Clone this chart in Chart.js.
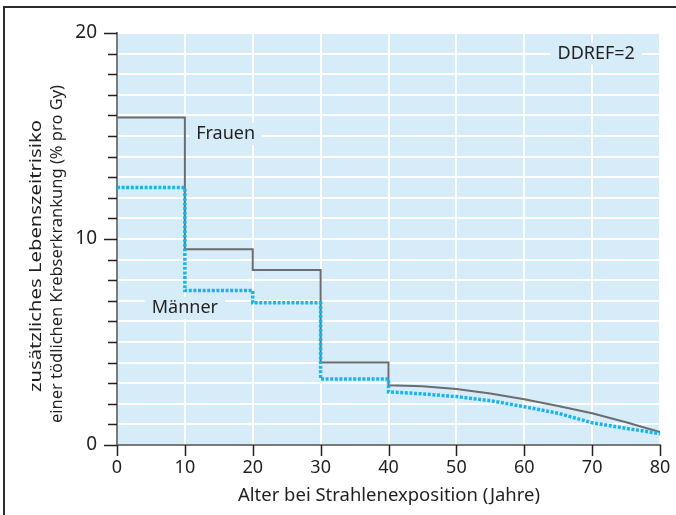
<!DOCTYPE html>
<html>
<head>
<meta charset="utf-8">
<script src="https://cdn.jsdelivr.net/npm/chart.js@4/dist/chart.umd.min.js"></script>
<style>
  html, body { margin: 0; padding: 0; background: #fff; }
  #wrap { width: 676px; height: 515px; position: relative; }
</style>
</head>
<body>
<div id="wrap"><canvas id="chart" width="676" height="515"></canvas></div>
<script>
// values
const ages = [0, 10, 10, 20, 20, 30, 30, 40, 40, 45, 50, 55, 60, 65, 70, 75, 80]
const frauen = [15.9, 15.9, 9.5, 9.5, 8.5, 8.5, 4.0, 4.0, 2.9, 2.85, 2.72, 2.5, 2.22, 1.89, 1.54, 1.1, 0.63]
const maenner = [12.5, 12.5, 7.5, 7.5, 6.9, 6.9, 3.2, 3.2, 2.58, 2.48, 2.35, 2.15, 1.86, 1.54, 1.08, 0.81, 0.55]
const majorYTicks = [0, 10, 20]

const xTitle = 'Alter bei Strahlenexposition (Jahre)'
const yTitle = ['zusätzliches Lebenszeitrisiko', 'einer tödlichen Krebserkrankung (% pro Gy)']
// label text with its anchor in data units
const labels = [
  { text: 'Frauen', x: 16, y: 15.1 },
  { text: 'Männer', x: 10, y: 6.65 },
  { text: 'DDREF=2', x: 70.6, y: 19.0 },
]

const FONT = '"Noto Sans", sans-serif'
const BG = '#d6edf9'
const INK = '#231f20'

const toPoints = (ys) => ys.map((y, i) => ({ x: ages[i], y }))

// draw text squeezed or stretched along its baseline to a given width
const fillFitted = (ctx, text, x, y, width) => {
  const k = width / ctx.measureText(text).width
  ctx.save()
  ctx.scale(k, 1)
  ctx.fillText(text, x / k, y)
  ctx.restore()
}

const decor = {
  id: 'decor',
  beforeDraw(chart) {
    const { ctx, chartArea: a } = chart
    ctx.save()
    ctx.fillStyle = BG
    ctx.fillRect(a.left, a.top, a.right - a.left, a.bottom - a.top)
    ctx.restore()
  },
  beforeDatasetsDraw(chart) {
    const { ctx, scales } = chart
    ctx.save()
    ctx.font = '18px ' + FONT
    ctx.textAlign = 'center'
    ctx.textBaseline = 'middle'
    labels.forEach((l) => {
      const px = scales.x.getPixelForValue(l.x)
      const py = scales.y.getPixelForValue(l.y)
      const w = ctx.measureText(l.text).width + 14
      ctx.fillStyle = BG
      ctx.fillRect(px - w / 2, py - 11, w, 22)
      ctx.fillStyle = INK
      ctx.fillText(l.text, px, py)
    })
    ctx.restore()
  },
  afterDraw(chart) {
    const { ctx, scales, chartArea: a } = chart
    ctx.save()
    // tick marks
    ctx.strokeStyle = INK
    ctx.lineWidth = 1.5
    scales.x.ticks.forEach((t) => {
      const px = Math.round(scales.x.getPixelForValue(t.value)) + 0.5
      ctx.beginPath()
      ctx.moveTo(px, a.bottom)
      ctx.lineTo(px, a.bottom + 11)
      ctx.stroke()
    })
    scales.y.ticks.forEach((t) => {
      const py = Math.round(scales.y.getPixelForValue(t.value)) + 0.5
      const len = majorYTicks.includes(t.value) ? 13 : 9
      ctx.beginPath()
      ctx.moveTo(a.left - len, py)
      ctx.lineTo(a.left, py)
      ctx.stroke()
    })
    // axis titles
    ctx.fillStyle = INK
    ctx.textAlign = 'center'
    ctx.textBaseline = 'middle'
    ctx.font = '17.5px ' + FONT
    fillFitted(ctx, xTitle, 389, 496, 302)
    ctx.save()
    ctx.translate(36, 256)
    ctx.rotate(-Math.PI / 2)
    ctx.font = '17px ' + FONT
    fillFitted(ctx, yTitle[0], 0, 0, 272)
    fillFitted(ctx, yTitle[1], 2, 21, 338)
    ctx.restore()
    // frame
    ctx.strokeStyle = '#2b2b2b'
    ctx.lineWidth = 2
    ctx.beginPath()
    ctx.moveTo(4, 515)
    ctx.lineTo(4, 7)
    ctx.lineTo(676, 7)
    ctx.stroke()
    ctx.restore()
  },
}

new Chart(document.getElementById('chart'), {
  type: 'line',
  data: {
    datasets: [
      {
        label: 'Männer',
        data: toPoints(maenner),
        borderColor: '#19b5ea',
        borderWidth: 3.5,
        borderDash: [3, 1.6],
        pointRadius: 0,
        tension: 0,
      },
      {
        label: 'Frauen',
        data: toPoints(frauen),
        borderColor: '#6b6c6e',
        borderWidth: 2,
        pointRadius: 0,
        tension: 0,
      },
    ],
  },
  options: {
    responsive: false,
    animation: false,
    events: [],
    layout: { padding: { left: 0, right: 16, top: 33, bottom: 0 } },
    plugins: { legend: { display: false }, tooltip: { enabled: false } },
    scales: {
      x: {
        type: 'linear',
        min: 0,
        max: 80,
        afterFit: (s) => {
          s.height = 70
          s.paddingLeft = 0
          s.paddingRight = 0
        },
        ticks: { stepSize: 10, color: INK, font: { family: FONT, size: 18 }, padding: 12 },
        grid: { color: '#fff', lineWidth: 2, drawTicks: false },
        border: { color: '#7a7a7a', width: 2 },
      },
      y: {
        min: 0,
        max: 20,
        afterFit: (s) => {
          s.width = 117
          s.paddingTop = 0
          s.paddingBottom = 0
        },
        ticks: {
          stepSize: 1,
          color: INK,
          font: { family: FONT, size: 19 },
          padding: 20,
          autoSkip: false,
          callback: (v) => (majorYTicks.includes(v) ? v : ''),
        },
        grid: { color: '#fff', lineWidth: 2, drawTicks: false },
        border: { color: '#7a7a7a', width: 2 },
      },
    },
  },
  plugins: [decor],
})
</script>
</body>
</html>
